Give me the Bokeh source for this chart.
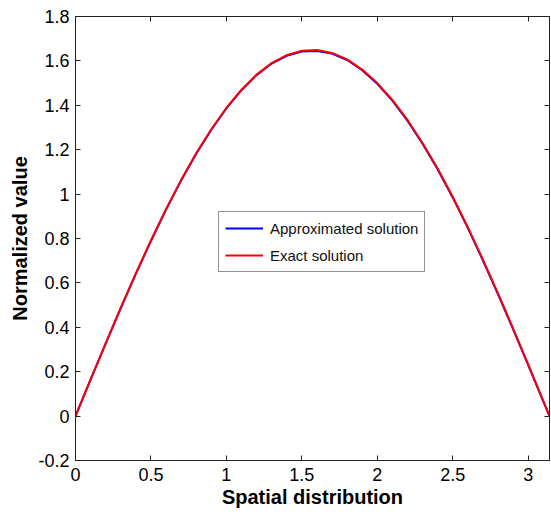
from bokeh.plotting import figure
from bokeh.models import FixedTicker, LinearAxis, Legend, LegendItem, Range1d
from bokeh.embed import file_html
from bokeh.resources import INLINE

x_vals = [0.0, 0.1, 0.2, 0.3, 0.4, 0.5, 0.6, 0.7, 0.8, 0.9, 1.0, 1.1, 1.2, 1.3, 1.4, 1.5,
          1.6, 1.7, 1.8, 1.9, 2.0, 2.1, 2.2, 2.3, 2.4, 2.5, 2.6, 2.7, 2.8, 2.9, 3.0, 3.1, 3.1416]
exact = [0.0, 0.165, 0.328, 0.488, 0.643, 0.791, 0.932, 1.063, 1.184, 1.292, 1.388, 1.470,
         1.538, 1.590, 1.626, 1.646, 1.649, 1.636, 1.607, 1.561, 1.500, 1.424, 1.334, 1.230,
         1.115, 0.988, 0.851, 0.705, 0.553, 0.395, 0.233, 0.069, 0.0]
approx = [0.0, 0.164, 0.326, 0.486, 0.641, 0.789, 0.930, 1.061, 1.182, 1.290, 1.386, 1.468,
          1.536, 1.588, 1.623, 1.642, 1.645, 1.633, 1.604, 1.558, 1.497, 1.421, 1.331, 1.227,
          1.112, 0.985, 0.848, 0.702, 0.550, 0.392, 0.231, 0.067, 0.0]

x_ticks = [0, 0.5, 1, 1.5, 2, 2.5, 3]
x_labels = ["0", "0.5", "1", "1.5", "2", "2.5", "3"]
y_ticks = [-0.2, 0, 0.2, 0.4, 0.6, 0.8, 1.0, 1.2, 1.4, 1.6, 1.8]
y_labels = ["-0.2", "0", "0.2", "0.4", "0.6", "0.8", "1", "1.2", "1.4", "1.6", "1.8"]

FONT = "Liberation Sans"

p = figure(width=551, height=514, output_backend="svg", toolbar_location=None,
           x_range=Range1d(0, 3.1416), y_range=Range1d(-0.2, 1.8),
           min_border_left=75, min_border_right=2, min_border_top=16, min_border_bottom=54)
p.background_fill_color = "white"
p.border_fill_color = "white"
p.outline_line_color = "#222222"
p.xgrid.visible = False
p.ygrid.visible = False

b = p.line(x_vals, approx, line_color="#0000ff", line_width=2)
r = p.line(x_vals, exact, line_color="#ff0000", line_width=2)

for ax in p.xaxis:
    ax.ticker = FixedTicker(ticks=x_ticks)
    ax.major_label_overrides = {t: l for t, l in zip(x_ticks, x_labels)}
for ax in p.yaxis:
    ax.ticker = FixedTicker(ticks=y_ticks)
    ax.major_label_overrides = {t: l for t, l in zip(y_ticks, y_labels)}

def style(ax):
    ax.axis_line_color = "#222222"
    ax.major_tick_line_color = "#222222"
    ax.major_tick_in = 5
    ax.major_tick_out = 0
    ax.minor_tick_line_color = None
    ax.major_label_text_font = FONT
    ax.major_label_text_font_size = "18px"
    ax.major_label_text_color = "black"
    ax.axis_label_text_font = FONT
    ax.axis_label_text_font_size = "20px"
    ax.axis_label_text_font_style = "bold"
    ax.axis_label_text_color = "black"

p.xaxis.axis_label = "Spatial distribution"
p.yaxis.axis_label = "Normalized value"
p.xaxis.axis_label_standoff = 2
p.yaxis.axis_label_standoff = 4
p.xaxis.major_label_standoff = 7
p.yaxis.major_label_standoff = 6
for ax in p.xaxis + p.yaxis:
    style(ax)

top = LinearAxis(ticker=FixedTicker(ticks=x_ticks))
right = LinearAxis(ticker=FixedTicker(ticks=y_ticks))
for ax in (top, right):
    style(ax)
    ax.major_label_text_alpha = 0
    ax.major_label_text_font_size = "1px"
    ax.major_label_standoff = 0
p.add_layout(top, "above")
p.add_layout(right, "right")

legend = Legend(items=[LegendItem(label="Approximated solution", renderers=[b]),
                       LegendItem(label="Exact solution", renderers=[r])],
                location=(143, 188))
legend.label_text_font = FONT
legend.label_text_font_size = "15px"
legend.label_text_color = "#111111"
legend.glyph_width = 38
legend.glyph_height = 20
legend.label_height = 20
legend.spacing = 7
legend.padding = 6
legend.margin = 0
legend.label_standoff = 7
legend.border_line_color = "#222222"
legend.background_fill_alpha = 1.0
p.add_layout(legend, "center")

open("out.html", "w").write(file_html(p, INLINE))
